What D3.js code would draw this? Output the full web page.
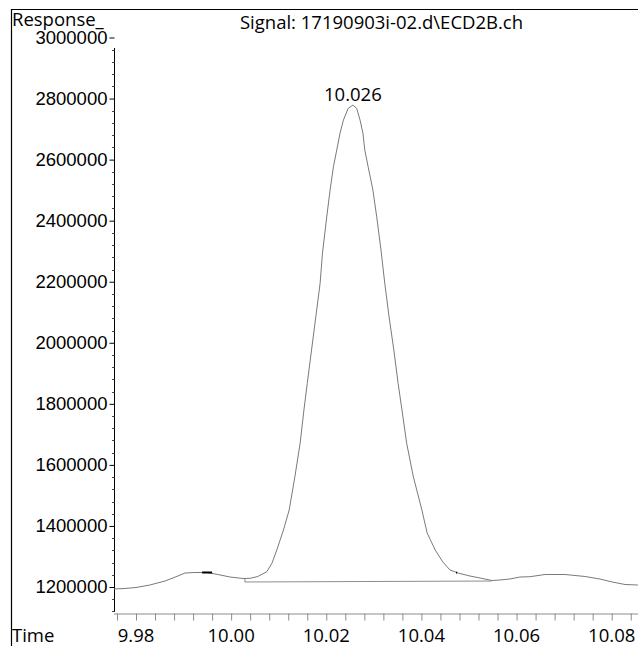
<!DOCTYPE html>
<html>
<head>
<meta charset="utf-8">
<script src="https://cdn.jsdelivr.net/npm/d3@7"></script>
<style>
  body { margin: 0; background: #fff; }
  svg { display: block; font-family: "Open Sans", sans-serif; }
  .lbl { font-size: 18.5px; fill: #000; }
</style>
</head>
<body>
<div id="d3-container"></div>
<script>
/* CONSTANTS AND GLOBALS */
const width = 638,
  height = 646;

// signal trace (time in min, response)
const times = [
  9.9754, 9.9777, 9.9800, 9.9829, 9.9861, 9.9888, 9.9903, 9.9924, 9.9949, 9.9972,
  9.9998, 10.0025, 10.0040, 10.0056, 10.0075, 10.0086, 10.0096, 10.0110, 10.0122, 10.0134,
  10.0145, 10.0153, 10.0160, 10.0169, 10.0178, 10.0187, 10.0192, 10.0201, 10.0208, 10.0215,
  10.0222, 10.0229, 10.0236, 10.0246, 10.0256, 10.0264, 10.0271, 10.0277, 10.0281, 10.0288,
  10.0298, 10.0306, 10.0315, 10.0323, 10.0332, 10.0342, 10.0351, 10.0360, 10.0369, 10.0383,
  10.0401, 10.0412, 10.0429, 10.0445, 10.0460, 10.0477, 10.0502, 10.0523, 10.0548, 10.0565,
  10.0586, 10.0607, 10.0628, 10.0660, 10.0702, 10.0744, 10.0775, 10.0801, 10.0828, 10.0855
];
const responses = [
  1193500, 1195100, 1198400, 1206500, 1219600, 1236000, 1245800, 1247500, 1247500, 1240900,
  1232700, 1227800, 1228500, 1234400, 1250100, 1278600, 1321200, 1386700, 1452200, 1561200,
  1670600, 1779700, 1867100, 1976200, 2085200, 2194600, 2293900, 2412700, 2500200, 2576500,
  2631200, 2686900, 2729400, 2767700, 2778600, 2767700, 2729400, 2686900, 2631200, 2576500,
  2500200, 2412700, 2303700, 2194600, 2085200, 1976200, 1867100, 1769900, 1670600, 1561200,
  1452200, 1376900, 1321200, 1281900, 1255700, 1245800, 1236000, 1229500, 1221300, 1222900,
  1226200, 1232700, 1233700, 1240900, 1240900, 1234400, 1226200, 1216400, 1208200, 1206500
];

// integration baseline
const baseTimes = [10.0029, 10.0029, 10.0548];
const baseResponses = [1228000, 1216400, 1219600];

// small dark marker segments on the trace
const markTimes = [[9.9939, 9.9960], [10.0473, 10.0475]];
const markResponses = [[1247500, 1247500], [1247500, 1247000]];

const peakTime = 10.0256,
  peakResponse = 2778600,
  peakLabel = "10.026";

const yTicks = [1200000, 1400000, 1600000, 1800000, 2000000, 2200000, 2400000, 2600000, 2800000, 3000000];
const yMinor = d3.range(1120000, 3000001, 40000);
const xTicks = [9.98, 10.00, 10.02, 10.04, 10.06, 10.08];
const xTickLabels = ["9.98", "10.00", "10.02", "10.04", "10.06", "10.08"];
const xMinor = d3.range(9.976, 10.0841, 0.004);

const titleText = "Signal: 17190903i-02.d\\ECD2B.ch";

let svg, xScale, yScale;

function init() {
  svg = d3.select("#d3-container")
    .append("svg")
    .attr("width", width)
    .attr("height", height);

  // x scale: 9.98 sits at 136px, 10.08 at 611.7px
  xScale = d3.scaleLinear()
    .domain([9.98, 10.08])
    .range([136, 611.7]);

  yScale = d3.scaleLinear()
    .domain([1200000, 3000000])
    .range([587, 37.5]);

  // frame
  svg.append("path")
    .attr("d", "M11.5,646 V9.5 H638")
    .attr("fill", "none")
    .attr("stroke", "#000")
    .attr("stroke-width", 1.2);

  // x axis (gray) minor ticks + main ticks, all same length
  const xAxisMinor = d3.axisBottom(xScale)
    .tickValues(xMinor)
    .tickSize(7)
    .tickFormat("");
  svg.append("g")
    .attr("class", "axis x-axis")
    .attr("transform", "translate(0,613.5)")
    .call(xAxisMinor)
    .call(g => g.select(".domain").attr("d", "M114,0.5 H638"))
    .call(g => g.selectAll("line, path").attr("stroke", "#8c8c8c"));

  svg.append("g")
    .selectAll("text")
    .data(xTicks)
    .join("text")
    .attr("class", "lbl")
    .attr("x", d => xScale(d))
    .attr("y", 642)
    .attr("text-anchor", "middle")
    .text((d, i) => xTickLabels[i]);

  // y axis
  const yAxis = d3.axisLeft(yScale)
    .tickValues(yTicks)
    .tickSize(5)
    .tickPadding(2)
    .tickFormat(d3.format("d"));
  svg.append("g")
    .attr("class", "axis y-axis")
    .attr("transform", "translate(114.5,0)")
    .call(yAxis)
    .call(g => g.select(".domain").attr("d", "M0,48 V612"))
    .call(g => g.selectAll("line, path").attr("stroke", "#000"))
    .call(g => g.selectAll("text")
      .attr("class", "lbl")
      .attr("font-family", null)
      .attr("font-size", null)
      .attr("fill", "#000"));

  svg.append("g")
    .selectAll("line")
    .data(yMinor.filter(d => !yTicks.includes(d)))
    .join("line")
    .attr("x1", 112)
    .attr("x2", 114.5)
    .attr("y1", d => Math.round(yScale(d)) + 0.5)
    .attr("y2", d => Math.round(yScale(d)) + 0.5)
    .attr("stroke", "#444");

  // labels
  svg.append("text")
    .attr("class", "lbl")
    .attr("x", 12)
    .attr("y", 26)
    .text("Response_");
  svg.append("text")
    .attr("class", "lbl")
    .attr("x", 12)
    .attr("y", 642)
    .text("Time");
  svg.append("text")
    .attr("class", "lbl")
    .attr("x", 381.5)
    .attr("y", 29)
    .attr("text-anchor", "middle")
    .text(titleText);

  draw();
}

function draw() {
  const line = d3.line()
    .x(d => xScale(d[0]))
    .y(d => yScale(d[1]));

  const trace = times.map((t, i) => [t, responses[i]]);
  const base = baseTimes.map((t, i) => [t, baseResponses[i]]);

  svg.append("path")
    .datum(base)
    .attr("d", line)
    .attr("fill", "none")
    .attr("stroke", "#8c8c8c")
    .attr("stroke-width", 1);

  svg.append("path")
    .datum(trace)
    .attr("d", line)
    .attr("fill", "none")
    .attr("stroke", "#7a7a7a")
    .attr("stroke-width", 1);

  svg.append("g")
    .selectAll("path")
    .data(markTimes.map((ts, i) => ts.map((t, j) => [t, markResponses[i][j]])))
    .join("path")
    .attr("d", line)
    .attr("fill", "none")
    .attr("stroke", "#000")
    .attr("stroke-width", 2);

  svg.append("text")
    .attr("class", "lbl")
    .attr("x", xScale(peakTime))
    .attr("y", yScale(peakResponse) - 4)
    .attr("text-anchor", "middle")
    .text(peakLabel);
}

init();
</script>
</body>
</html>
